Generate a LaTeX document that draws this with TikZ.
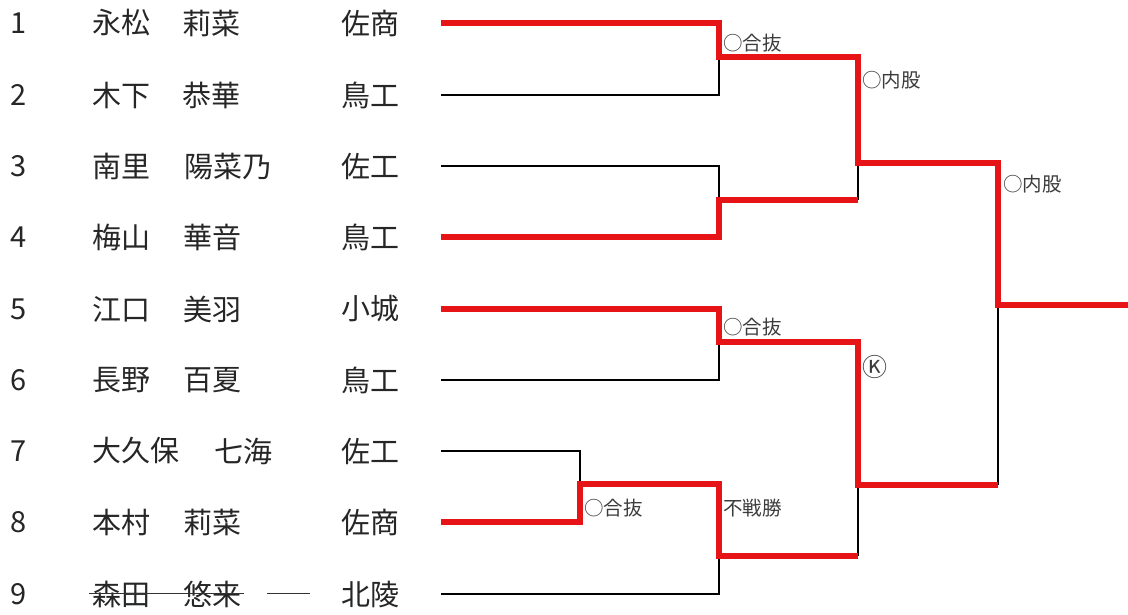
\documentclass[tikz,border=0pt]{standalone}
\usepackage{fontspec}
\setmainfont{Noto Sans CJK JP}
\definecolor{winred}{RGB}{230,20,22}
\definecolor{labgray}{RGB}{60,60,60}
\tikzset{
  win/.style={draw=winred,line width=5.5pt},
  lose/.style={draw=black,line width=1.6pt},
  entry/.style={anchor=west,inner sep=0pt,text=black!85,font=\fontsize{29}{29}\selectfont},
  result/.style={anchor=west,inner sep=0pt,text=labgray,font=\fontsize{19.5}{19.5}\selectfont}
}
\begin{document}
\begin{tikzpicture}[x=1pt,y=-1pt]
  \useasboundingbox (0,0) rectangle (1128,614);
  % entries: number, surname, given name, school
  \node[entry] (n1) at (10,23) {1};  \node[entry] (s1) at (92,23) {永松};   \node[entry] (g1) at (182,23) {莉菜};   \node[entry] (k1) at (341,23) {佐商};
  \node[entry] (n2) at (10,95) {2};  \node[entry] (s2) at (92,95) {木下};   \node[entry] (g2) at (182,95) {恭華};   \node[entry] (k2) at (341,95) {鳥工};
  \node[entry] (n3) at (10,166) {3}; \node[entry] (s3) at (92,166) {南里};  \node[entry] (g3) at (184,166) {陽菜乃}; \node[entry] (k3) at (341,166) {佐工};
  \node[entry] (n4) at (10,237) {4}; \node[entry] (s4) at (92,237) {梅山};  \node[entry] (g4) at (183,237) {華音};  \node[entry] (k4) at (341,237) {鳥工};
  \node[entry] (n5) at (10,309) {5}; \node[entry] (s5) at (92,309) {江口};  \node[entry] (g5) at (183,309) {美羽};  \node[entry] (k5) at (341,309) {小城};
  \node[entry] (n6) at (10,380) {6}; \node[entry] (s6) at (92,380) {長野};  \node[entry] (g6) at (183,380) {百夏};  \node[entry] (k6) at (341,380) {鳥工};
  \node[entry] (n7) at (10,451) {7}; \node[entry] (s7) at (92,451) {大久保}; \node[entry] (g7) at (214,451) {七海}; \node[entry] (k7) at (341,451) {佐工};
  \node[entry] (n8) at (10,522) {8}; \node[entry] (s8) at (92,522) {本村};  \node[entry] (g8) at (183,522) {莉菜};  \node[entry] (k8) at (341,522) {佐商};
  \node[entry] (n9) at (10,594) {9}; \node[entry] (s9) at (92,594) {森田};  \node[entry] (g9) at (183,594) {悠来};  \node[entry] (k9) at (341,594) {北陵};
  % withdrawn entry
  \draw[line width=1pt,black!80] (89,593) -- (244,593);
  \draw[line width=1pt,black!80] (267,593) -- (310,593);

  % bracket points
  \coordinate (e1) at (441,23);  \coordinate (e2) at (441,95);  \coordinate (e3) at (441,166);
  \coordinate (e4) at (441,237); \coordinate (e5) at (441,309); \coordinate (e6) at (441,380);
  \coordinate (e7) at (441,451); \coordinate (e8) at (441,522); \coordinate (e9) at (441,594);
  \coordinate (a1) at (719,57);  \coordinate (a2) at (719,200); \coordinate (a3) at (719,342);
  \coordinate (a4) at (580,484); \coordinate (a5) at (719,556);
  \coordinate (b1) at (858,163); \coordinate (b2) at (858,485);
  \coordinate (c1) at (998,305); \coordinate (champ) at (1128,305);

  % losing lines
  \draw[lose] (e2) -| (a1);
  \draw[lose] (e3) -| (a2);
  \draw[lose] (a2 -| b1) -- (b1);
  \draw[lose] (e6) -| (a3);
  \draw[lose] (e7) -| (a4);
  \draw[lose] (e9) -| (a5);
  \draw[lose] (a5 -| b2) -- (b2);
  \draw[lose] (b2 -| c1) -- (c1);

  % winning lines
  \draw[win] (e1) -| (a1) -| (b1) -| (c1) -- (champ);
  \draw[win] (e4) -| (a2) -- (a2 -| b1);
  \draw[win] (e5) -| (a3) -| (b2) -- (b2 -| c1);
  \draw[win] (e8) -| (a4) -| (a5) -- (a5 -| b2);

  % results
  \node[result] (r1) at (723,43) {○合抜};
  \node[result] (r2) at (862,80) {○内股};
  \node[result] (r3) at (1003,184) {○内股};
  \node[result] (r4) at (723,327) {○合抜};
  \node[result,font=\fontsize{25}{25}\selectfont] (r5) at (862,367) {Ⓚ};
  \node[result] (r6) at (584,508) {○合抜};
  \node[result] (r7) at (723,508) {不戦勝};
\end{tikzpicture}
\end{document}
